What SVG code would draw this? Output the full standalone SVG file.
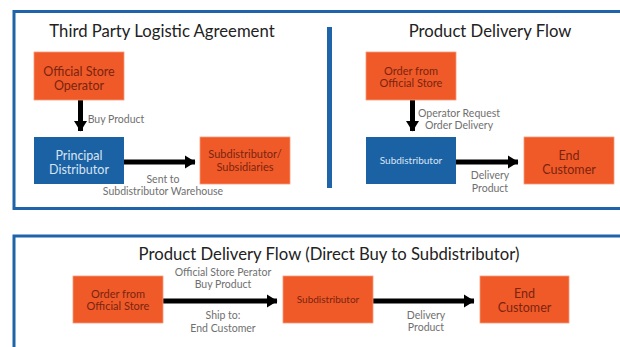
<svg xmlns="http://www.w3.org/2000/svg" width="620" height="347" viewBox="0 0 620 347">
<defs>
<style>
.frame{fill:none;stroke:#1f63a8;stroke-width:3}
.or{fill:#f05a28;stroke:#f79a78;stroke-width:0.8}
.bl{fill:#1b62a5}
.title{font-family:"Lato","Noto Sans",sans-serif;font-size:16.7px;fill:#222;text-anchor:middle}
.to{font-family:"Lato","Noto Sans",sans-serif;fill:#7a2410;text-anchor:middle}
.tb{font-family:"Lato","Noto Sans",sans-serif;fill:#d8e4f2;text-anchor:middle}
.lbl{font-family:"Lato","Noto Sans",sans-serif;font-size:10.5px;fill:#707070;text-anchor:middle}
.con{stroke:#000;stroke-width:5;fill:none}
</style>
<marker id="ah" markerWidth="4" markerHeight="4" refX="2" refY="2" orient="auto" markerUnits="strokeWidth">
<path d="M0,0.7 L2.1,2 L0,3.3 Z" fill="#000"/>
</marker>
</defs>
<rect width="620" height="347" fill="#fff"/>
<rect class="frame" x="14" y="11.5" width="620" height="197"/>
<rect class="frame" x="14" y="236" width="620" height="130"/>
<rect x="327" y="27" width="5" height="161" fill="#1f63a8"/>
<text class="title" x="162" y="37">Third Party Logistic Agreement</text>
<text class="title" x="490" y="37">Product Delivery Flow</text>
<text class="title" x="329" y="260">Product Delivery Flow (Direct Buy to Subdistributor)</text>
<g id="connectors">
<line class="con" x1="80.5" y1="100" x2="80.5" y2="131" marker-end="url(#ah)"/>
<line class="con" x1="124" y1="162" x2="195" y2="162" marker-end="url(#ah)"/>
<line class="con" x1="412.5" y1="100" x2="412.5" y2="131" marker-end="url(#ah)"/>
<line class="con" x1="456" y1="162" x2="518" y2="162" marker-end="url(#ah)"/>
<line class="con" x1="163" y1="301" x2="277" y2="301" marker-end="url(#ah)"/>
<line class="con" x1="373" y1="301" x2="474" y2="301" marker-end="url(#ah)"/>
<text class="lbl" x="116" y="123">Buy Product</text>
<text class="lbl" x="163" y="183">Sent to</text>
<text class="lbl" x="163" y="195">Subdistributor Warehouse</text>
<text class="lbl" x="459" y="117">Operator Request</text>
<text class="lbl" x="459" y="129">Order Delivery</text>
<text class="lbl" x="490" y="179">Delivery</text>
<text class="lbl" x="490" y="192">Product</text>
<text class="lbl" x="223" y="276">Official Store Perator</text>
<text class="lbl" x="223" y="288">Buy Product</text>
<text class="lbl" x="223" y="319">Ship to:</text>
<text class="lbl" x="223" y="332">End Customer</text>
<text class="lbl" x="426" y="319">Delivery</text>
<text class="lbl" x="426" y="331">Product</text>
</g>
<g id="official-store-operator">
<rect class="or" x="34" y="52" width="90" height="48"/>
<text class="to" x="79" y="75.5" font-size="12.5">Official Store</text>
<text class="to" x="79" y="90" font-size="12.5">Operator</text>
</g>
<g id="principal-distributor">
<rect class="bl" x="34" y="137" width="90" height="47"/>
<text class="tb" x="79" y="159.5" font-size="12.5">Principal</text>
<text class="tb" x="79" y="174" font-size="12.5">Distributor</text>
</g>
<g id="subdistributor-subsidiaries">
<rect class="or" x="200" y="137" width="90" height="47"/>
<text class="to" x="245" y="158" font-size="11">Subdistributor/</text>
<text class="to" x="245" y="171" font-size="11">Subsidiaries</text>
</g>
<g id="order-official-store-1">
<rect class="or" x="366" y="52" width="90" height="48"/>
<text class="to" x="411" y="75" font-size="11">Order from</text>
<text class="to" x="411" y="87" font-size="11">Official Store</text>
</g>
<g id="subdistributor-1">
<rect class="bl" x="366" y="137" width="90" height="47"/>
<text class="tb" x="411" y="164" font-size="10">Subdistributor</text>
</g>
<g id="end-customer-1">
<rect class="or" x="524" y="137" width="90" height="47"/>
<text class="to" x="569" y="159.5" font-size="12.5">End</text>
<text class="to" x="569" y="174" font-size="12.5">Customer</text>
</g>
<g id="order-official-store-2">
<rect class="or" x="73" y="276" width="90" height="47"/>
<text class="to" x="118" y="298" font-size="11">Order from</text>
<text class="to" x="118" y="310" font-size="11">Official Store</text>
</g>
<g id="subdistributor-2">
<rect class="or" x="283" y="276" width="90" height="47"/>
<text class="to" x="328" y="303" font-size="10">Subdistributor</text>
</g>
<g id="end-customer-2">
<rect class="or" x="480" y="276" width="89" height="47"/>
<text class="to" x="524.5" y="297.5" font-size="12.5">End</text>
<text class="to" x="524.5" y="312" font-size="12.5">Customer</text>
</g>
</svg>
